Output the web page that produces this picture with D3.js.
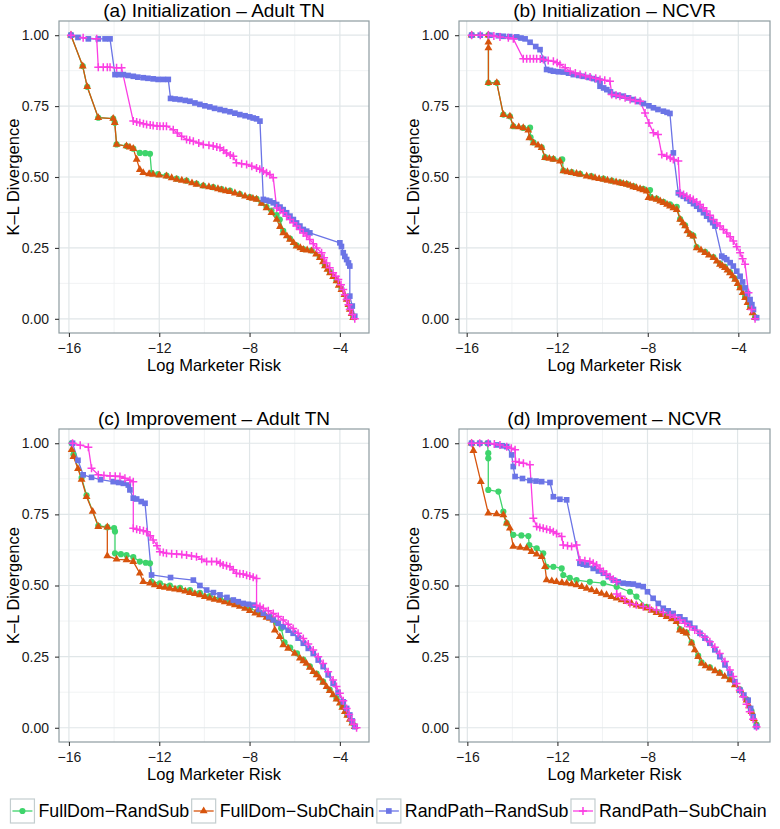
<!DOCTYPE html>
<html><head><meta charset="utf-8">
<script src="https://cdn.jsdelivr.net/npm/d3@7"></script>
<style>
body{margin:0;background:#fff}
svg{display:block}
text{font-family:"Liberation Sans",Arial,Helvetica,sans-serif}
</style>
</head><body>
<svg id="chart" width="780" height="829"></svg>
<script>
// ---------- DATA (x = log marketer risk, y = K-L divergence) ----------
const seriesNames = ["FullDom\u2212RandSub","FullDom\u2212SubChain","RandPath\u2212RandSub","RandPath\u2212SubChain"];
const panelTitles = ["(a) Initialization \u2013 Adult TN","(b) Initialization \u2013 NCVR","(c) Improvement \u2013 Adult TN","(d) Improvement \u2013 NCVR"];
const xTicks = [-16,-12,-8,-4];
const yTicks = [0,0.25,0.5,0.75,1];
const xMinorTicks = [-14,-10,-6];
const yMinorTicks = [0.125,0.375,0.625,0.875];
const xLabel = "Log Marketer Risk";
const yLabel = "K\u2013L Divergence";

// Panel (a)
const a_FullDomRandSub = [[-15.91,1.0],[-15.39,0.891],[-15.19,0.818],[-14.70,0.709],[-14.04,0.706],[-13.97,0.691],[-13.89,0.615],[-13.45,0.609],[-13.15,0.600],[-12.86,0.585],[-12.62,0.584],[-12.41,0.582],[-12.34,0.515],[-12.05,0.510],[-11.68,0.505],[-11.23,0.494],[-10.79,0.487],[-10.35,0.477],[-10.05,0.470],[-9.61,0.464],[-9.24,0.457],[-8.87,0.452],[-8.43,0.440],[-7.99,0.429],[-7.69,0.423],[-7.47,0.409],[-7.25,0.395],[-7.03,0.382],[-6.80,0.366],[-6.66,0.350],[-6.51,0.310],[-6.21,0.283],[-5.92,0.259],[-5.62,0.246],[-5.25,0.241],[-4.89,0.218],[-4.66,0.189],[-4.44,0.165],[-4.15,0.136],[-3.93,0.106],[-3.70,0.071],[-3.56,0.036],[-3.41,0.006]];
const a_FullDomSubChain = [[-15.91,1.0],[-15.39,0.891],[-15.19,0.818],[-14.70,0.709],[-14.04,0.706],[-13.97,0.691],[-13.89,0.615],[-13.45,0.609],[-13.30,0.605],[-13.15,0.600],[-13.0,0.562],[-12.86,0.526],[-12.71,0.515],[-12.45,0.511],[-12.27,0.509],[-12.0,0.506],[-11.68,0.503],[-11.45,0.497],[-11.23,0.491],[-11.0,0.488],[-10.79,0.485],[-10.55,0.479],[-10.35,0.474],[-10.05,0.468],[-9.80,0.465],[-9.61,0.462],[-9.40,0.458],[-9.24,0.454],[-9.05,0.451],[-8.87,0.448],[-8.65,0.443],[-8.43,0.438],[-8.20,0.432],[-7.99,0.427],[-7.85,0.424],[-7.69,0.421],[-7.47,0.407],[-7.25,0.391],[-7.03,0.374],[-6.80,0.350],[-6.65,0.325],[-6.51,0.303],[-6.35,0.292],[-6.21,0.280],[-6.05,0.268],[-5.92,0.256],[-5.75,0.250],[-5.62,0.244],[-5.45,0.242],[-5.25,0.239],[-5.05,0.228],[-4.89,0.215],[-4.75,0.200],[-4.66,0.186],[-4.55,0.174],[-4.44,0.162],[-4.30,0.148],[-4.15,0.133],[-4.05,0.118],[-3.93,0.103],[-3.80,0.085],[-3.70,0.068],[-3.62,0.050],[-3.56,0.033],[-3.48,0.018],[-3.41,0.004]];
const a_RandPathRandSub = [[-15.91,1.0],[-15.60,0.992],[-15.14,0.987],[-14.70,0.987],[-14.40,0.987],[-14.18,0.987],[-13.96,0.861],[-13.80,0.861],[-13.59,0.861],[-13.38,0.858],[-13.15,0.855],[-12.95,0.852],[-12.71,0.850],[-12.50,0.848],[-12.27,0.846],[-12.05,0.844],[-11.82,0.844],[-11.60,0.844],[-11.50,0.777],[-11.30,0.775],[-11.08,0.773],[-10.85,0.770],[-10.64,0.767],[-10.42,0.761],[-10.20,0.756],[-9.98,0.751],[-9.76,0.747],[-9.55,0.742],[-9.31,0.738],[-9.10,0.734],[-8.87,0.730],[-8.65,0.725],[-8.43,0.720],[-8.20,0.716],[-7.99,0.712],[-7.84,0.708],[-7.69,0.705],[-7.54,0.697],[-7.39,0.421],[-7.25,0.418],[-7.10,0.415],[-6.95,0.409],[-6.80,0.403],[-6.65,0.394],[-6.51,0.385],[-6.36,0.374],[-6.21,0.362],[-6.06,0.350],[-5.92,0.338],[-5.77,0.327],[-5.62,0.315],[-5.47,0.309],[-5.33,0.303],[-4.0,0.268],[-3.93,0.255],[-3.85,0.233],[-3.78,0.220],[-3.70,0.209],[-3.62,0.197],[-3.56,0.186],[-3.56,0.080],[-3.45,0.045],[-3.34,0.009]];
const a_RandPathSubChain = [[-15.91,1.0],[-15.37,0.991],[-14.77,0.987],[-14.70,0.887],[-14.48,0.887],[-14.30,0.887],[-14.18,0.887],[-13.89,0.885],[-13.67,0.885],[-13.15,0.697],[-13.0,0.694],[-12.86,0.691],[-12.70,0.688],[-12.56,0.685],[-12.40,0.683],[-12.27,0.682],[-12.10,0.680],[-11.97,0.679],[-11.82,0.679],[-11.68,0.679],[-11.38,0.667],[-11.20,0.655],[-11.01,0.644],[-10.79,0.632],[-10.65,0.630],[-10.49,0.626],[-10.25,0.620],[-10.05,0.615],[-9.80,0.612],[-9.61,0.609],[-9.45,0.606],[-9.31,0.603],[-9.15,0.594],[-9.02,0.585],[-8.85,0.578],[-8.72,0.573],[-8.58,0.550],[-8.35,0.547],[-8.13,0.544],[-7.90,0.538],[-7.69,0.532],[-7.55,0.527],[-7.39,0.521],[-7.25,0.515],[-7.10,0.509],[-6.95,0.497],[-6.80,0.391],[-6.65,0.383],[-6.51,0.374],[-6.36,0.362],[-6.21,0.350],[-6.06,0.339],[-5.92,0.327],[-5.77,0.315],[-5.62,0.303],[-5.47,0.292],[-5.33,0.280],[-5.18,0.265],[-5.03,0.250],[-4.81,0.233],[-4.70,0.215],[-4.59,0.197],[-4.45,0.180],[-4.30,0.162],[-4.18,0.150],[-4.07,0.139],[-3.95,0.120],[-3.85,0.103],[-3.78,0.085],[-3.70,0.068],[-3.62,0.050],[-3.56,0.033],[-3.45,0.015],[-3.34,0.0]];

// Panel (b)
const b_FullDomRandSub = [[-15.78,1.0],[-15.04,1.0],[-15.04,0.832],[-14.67,0.832],[-14.38,0.720],[-14.09,0.714],[-13.94,0.679],[-13.50,0.673],[-13.20,0.674],[-13.18,0.640],[-13.05,0.622],[-12.69,0.605],[-12.54,0.570],[-12.17,0.564],[-11.78,0.562],[-11.73,0.523],[-11.36,0.517],[-10.99,0.511],[-10.50,0.503],[-9.96,0.494],[-9.59,0.487],[-9.23,0.481],[-8.93,0.476],[-8.64,0.468],[-8.20,0.458],[-7.90,0.454],[-7.88,0.430],[-7.61,0.424],[-7.31,0.412],[-7.02,0.404],[-6.72,0.395],[-6.57,0.352],[-6.35,0.330],[-6.13,0.300],[-5.99,0.293],[-5.84,0.253],[-5.47,0.236],[-5.10,0.218],[-4.81,0.195],[-4.59,0.183],[-4.37,0.165],[-4.14,0.142],[-3.92,0.112],[-3.70,0.078],[-3.48,0.043],[-3.26,0.006]];
const b_FullDomSubChain = [[-15.78,1.0],[-15.04,1.0],[-15.04,0.975],[-15.04,0.955],[-15.04,0.832],[-14.67,0.832],[-14.38,0.720],[-14.09,0.714],[-13.94,0.679],[-13.70,0.676],[-13.50,0.673],[-13.28,0.665],[-13.23,0.638],[-13.05,0.620],[-12.85,0.612],[-12.69,0.603],[-12.54,0.568],[-12.35,0.565],[-12.17,0.562],[-11.88,0.556],[-11.73,0.521],[-11.55,0.518],[-11.36,0.515],[-11.15,0.512],[-10.99,0.509],[-10.70,0.503],[-10.50,0.500],[-10.33,0.497],[-10.15,0.494],[-9.96,0.491],[-9.78,0.488],[-9.59,0.485],[-9.40,0.482],[-9.23,0.479],[-9.08,0.476],[-8.93,0.474],[-8.78,0.470],[-8.64,0.465],[-8.50,0.462],[-8.34,0.458],[-8.20,0.454],[-8.05,0.450],[-7.97,0.427],[-7.80,0.424],[-7.61,0.421],[-7.45,0.415],[-7.31,0.409],[-7.15,0.403],[-7.02,0.397],[-6.87,0.391],[-6.72,0.385],[-6.57,0.350],[-6.45,0.338],[-6.35,0.327],[-6.25,0.310],[-6.13,0.297],[-5.99,0.291],[-5.84,0.250],[-5.65,0.242],[-5.47,0.233],[-5.30,0.224],[-5.10,0.215],[-4.95,0.203],[-4.81,0.192],[-4.70,0.186],[-4.59,0.180],[-4.48,0.171],[-4.37,0.162],[-4.25,0.151],[-4.14,0.139],[-4.03,0.124],[-3.92,0.109],[-3.81,0.092],[-3.70,0.074],[-3.59,0.057],[-3.48,0.039],[-3.37,0.021],[-3.26,0.004]];
const b_RandPathRandSub = [[-15.78,1.0],[-15.40,1.0],[-14.97,1.0],[-14.60,0.998],[-14.38,0.996],[-14.10,0.995],[-13.79,0.994],[-13.60,0.990],[-13.42,0.987],[-13.20,0.975],[-12.95,0.960],[-12.76,0.949],[-12.60,0.915],[-12.47,0.879],[-12.30,0.876],[-12.17,0.873],[-11.95,0.871],[-11.73,0.870],[-11.50,0.866],[-11.29,0.861],[-11.05,0.858],[-10.85,0.855],[-10.60,0.851],[-10.40,0.847],[-10.25,0.843],[-10.11,0.838],[-10.11,0.820],[-9.95,0.814],[-9.81,0.808],[-9.65,0.800],[-9.52,0.791],[-9.30,0.788],[-9.08,0.785],[-8.85,0.779],[-8.64,0.773],[-8.40,0.766],[-8.19,0.759],[-7.95,0.751],[-7.75,0.744],[-7.55,0.738],[-7.31,0.732],[-7.15,0.728],[-7.02,0.724],[-6.87,0.585],[-6.65,0.444],[-6.55,0.438],[-6.43,0.432],[-6.28,0.424],[-6.13,0.415],[-5.98,0.406],[-5.84,0.397],[-5.70,0.386],[-5.54,0.374],[-5.40,0.362],[-5.25,0.350],[-5.13,0.339],[-5.03,0.327],[-4.73,0.221],[-4.62,0.215],[-4.51,0.209],[-4.36,0.198],[-4.22,0.186],[-4.07,0.168],[-3.92,0.150],[-3.81,0.130],[-3.70,0.109],[-3.59,0.089],[-3.48,0.068],[-3.40,0.050],[-3.33,0.033],[-3.19,0.004]];
const b_RandPathSubChain = [[-15.78,1.0],[-15.40,1.0],[-15.04,1.0],[-14.80,0.997],[-14.53,0.994],[-14.16,0.991],[-13.94,0.987],[-13.50,0.917],[-13.35,0.917],[-13.20,0.917],[-13.05,0.917],[-12.91,0.917],[-12.75,0.916],[-12.61,0.914],[-12.40,0.911],[-12.17,0.908],[-12.0,0.903],[-11.88,0.897],[-11.65,0.885],[-11.43,0.873],[-11.20,0.867],[-10.99,0.861],[-10.75,0.857],[-10.55,0.853],[-10.30,0.848],[-10.11,0.844],[-9.90,0.841],[-9.67,0.838],[-9.59,0.791],[-9.40,0.788],[-9.23,0.785],[-9.00,0.779],[-8.78,0.773],[-8.55,0.770],[-8.34,0.767],[-8.12,0.726],[-7.95,0.690],[-7.75,0.656],[-7.55,0.650],[-7.38,0.579],[-7.16,0.573],[-7.00,0.567],[-6.87,0.562],[-6.65,0.556],[-6.57,0.444],[-6.42,0.438],[-6.28,0.432],[-6.13,0.426],[-5.99,0.421],[-5.84,0.412],[-5.69,0.403],[-5.55,0.392],[-5.40,0.380],[-5.25,0.365],[-5.10,0.350],[-4.95,0.338],[-4.81,0.327],[-4.66,0.315],[-4.51,0.303],[-4.36,0.289],[-4.22,0.274],[-4.07,0.254],[-3.92,0.233],[-3.81,0.212],[-3.70,0.192],[-3.55,0.092],[-3.41,0.033],[-3.26,0.0]];

// Panel (c)
const c_FullDomRandSub = [[-15.88,1.0],[-15.80,0.960],[-15.44,0.878],[-15.22,0.817],[-14.70,0.710],[-14.30,0.705],[-14.0,0.702],[-13.96,0.690],[-13.96,0.613],[-13.70,0.610],[-13.45,0.607],[-13.15,0.600],[-12.86,0.584],[-12.60,0.580],[-12.41,0.578],[-12.34,0.513],[-11.97,0.508],[-11.53,0.500],[-11.08,0.492],[-10.64,0.484],[-10.20,0.474],[-9.76,0.463],[-9.31,0.455],[-8.87,0.445],[-8.43,0.434],[-7.99,0.420],[-7.54,0.405],[-7.10,0.390],[-6.80,0.370],[-6.60,0.350],[-6.45,0.300],[-6.20,0.282],[-5.90,0.262],[-5.62,0.240],[-5.33,0.216],[-5.03,0.190],[-4.74,0.162],[-4.45,0.134],[-4.15,0.104],[-3.89,0.075],[-3.67,0.046],[-3.45,0.019],[-3.34,0.006]];
const c_FullDomSubChain = [[-15.88,0.977],[-15.80,0.953],[-15.60,0.910],[-15.44,0.873],[-15.22,0.812],[-14.95,0.760],[-14.70,0.707],[-14.30,0.705],[-14.30,0.604],[-13.89,0.592],[-13.45,0.590],[-13.15,0.584],[-12.86,0.543],[-12.71,0.513],[-12.41,0.508],[-12.20,0.502],[-11.97,0.496],[-11.75,0.493],[-11.53,0.490],[-11.30,0.487],[-11.08,0.484],[-10.85,0.480],[-10.64,0.475],[-10.42,0.471],[-10.20,0.467],[-9.98,0.461],[-9.76,0.455],[-9.55,0.451],[-9.31,0.447],[-9.10,0.442],[-8.87,0.437],[-8.65,0.432],[-8.43,0.426],[-8.20,0.419],[-7.99,0.411],[-7.75,0.403],[-7.54,0.396],[-7.25,0.388],[-7.10,0.384],[-6.95,0.379],[-6.88,0.343],[-6.66,0.320],[-6.51,0.291],[-6.29,0.279],[-6.0,0.261],[-5.77,0.244],[-5.62,0.235],[-5.48,0.226],[-5.33,0.212],[-5.18,0.197],[-5.03,0.186],[-4.89,0.174],[-4.74,0.159],[-4.59,0.144],[-4.45,0.130],[-4.30,0.115],[-4.15,0.100],[-4.0,0.086],[-3.89,0.071],[-3.78,0.056],[-3.67,0.043],[-3.56,0.029],[-3.45,0.016],[-3.34,0.004]];
const c_RandPathRandSub = [[-15.84,1.0],[-15.60,0.940],[-15.37,0.889],[-15.0,0.880],[-14.60,0.872],[-14.04,0.865],[-13.80,0.862],[-13.59,0.859],[-13.37,0.853],[-13.30,0.836],[-13.15,0.807],[-13.0,0.804],[-12.80,0.795],[-12.63,0.789],[-12.34,0.537],[-11.50,0.528],[-10.49,0.519],[-10.20,0.500],[-9.90,0.484],[-9.60,0.475],[-9.31,0.467],[-9.00,0.458],[-8.72,0.449],[-8.50,0.443],[-8.28,0.437],[-8.05,0.434],[-7.84,0.431],[-7.60,0.416],[-7.39,0.402],[-7.15,0.390],[-6.95,0.379],[-6.73,0.367],[-6.51,0.355],[-6.29,0.343],[-6.07,0.332],[-5.85,0.315],[-5.62,0.297],[-5.40,0.279],[-5.18,0.261],[-4.96,0.238],[-4.74,0.215],[-4.52,0.186],[-4.30,0.156],[-4.08,0.124],[-3.85,0.091],[-3.70,0.068],[-3.56,0.045],[-3.45,0.024],[-3.34,0.004]];
const c_RandPathSubChain = [[-15.84,1.0],[-15.50,0.993],[-15.14,0.986],[-15.0,0.912],[-14.70,0.889],[-14.45,0.887],[-14.18,0.885],[-13.95,0.884],[-13.74,0.883],[-13.52,0.877],[-13.30,0.870],[-13.15,0.865],[-13.15,0.701],[-13.0,0.698],[-12.86,0.695],[-12.70,0.692],[-12.56,0.689],[-12.40,0.675],[-12.27,0.660],[-12.10,0.640],[-11.97,0.619],[-11.82,0.616],[-11.68,0.613],[-11.45,0.612],[-11.23,0.611],[-11.0,0.609],[-10.79,0.607],[-10.57,0.604],[-10.35,0.601],[-10.12,0.592],[-9.90,0.584],[-9.68,0.584],[-9.46,0.584],[-9.30,0.578],[-9.17,0.572],[-9.02,0.569],[-8.87,0.566],[-8.72,0.555],[-8.58,0.543],[-8.43,0.541],[-8.28,0.540],[-8.13,0.536],[-7.99,0.533],[-7.84,0.529],[-7.69,0.525],[-7.69,0.431],[-7.54,0.426],[-7.39,0.420],[-7.17,0.411],[-6.95,0.402],[-6.73,0.391],[-6.51,0.379],[-6.29,0.364],[-6.07,0.349],[-5.85,0.332],[-5.62,0.314],[-5.40,0.294],[-5.18,0.273],[-4.96,0.250],[-4.74,0.226],[-4.52,0.197],[-4.30,0.168],[-4.15,0.145],[-4.0,0.121],[-3.85,0.095],[-3.70,0.068],[-3.59,0.047],[-3.48,0.027],[-3.37,0.012],[-3.26,0.0]];

// Panel (d)
const d_FullDomRandSub = [[-15.81,1.0],[-15.45,1.0],[-15.11,1.0],[-15.07,0.965],[-15.07,0.947],[-15.07,0.836],[-14.62,0.830],[-14.40,0.760],[-14.25,0.719],[-13.96,0.678],[-13.60,0.676],[-13.29,0.674],[-13.25,0.642],[-12.92,0.631],[-12.63,0.613],[-12.48,0.566],[-12.18,0.566],[-11.81,0.560],[-11.74,0.537],[-11.45,0.527],[-11.15,0.519],[-10.56,0.513],[-9.96,0.508],[-9.37,0.496],[-8.78,0.478],[-8.49,0.461],[-8.04,0.425],[-7.60,0.408],[-7.15,0.394],[-6.71,0.378],[-6.56,0.347],[-6.27,0.335],[-6.04,0.300],[-5.75,0.254],[-5.60,0.230],[-5.23,0.212],[-4.79,0.194],[-4.34,0.171],[-3.90,0.135],[-3.60,0.100],[-3.38,0.059],[-3.16,0.011]];
const d_FullDomSubChain = [[-15.81,1.0],[-15.73,0.974],[-15.40,0.865],[-15.07,0.754],[-14.70,0.751],[-14.40,0.748],[-14.25,0.719],[-14.11,0.701],[-13.96,0.637],[-13.65,0.634],[-13.37,0.631],[-13.15,0.619],[-12.92,0.610],[-12.70,0.601],[-12.55,0.566],[-12.48,0.519],[-12.25,0.516],[-12.04,0.513],[-11.80,0.510],[-11.59,0.508],[-11.37,0.505],[-11.15,0.502],[-10.92,0.496],[-10.70,0.490],[-10.48,0.484],[-10.26,0.478],[-10.04,0.472],[-9.82,0.467],[-9.60,0.461],[-9.37,0.455],[-9.15,0.449],[-8.93,0.443],[-8.71,0.437],[-8.49,0.431],[-8.27,0.426],[-8.04,0.420],[-7.82,0.412],[-7.60,0.404],[-7.37,0.397],[-7.15,0.390],[-6.93,0.382],[-6.71,0.373],[-6.56,0.343],[-6.40,0.338],[-6.27,0.332],[-6.04,0.297],[-5.90,0.273],[-5.75,0.250],[-5.60,0.226],[-5.42,0.217],[-5.23,0.209],[-5.00,0.200],[-4.79,0.191],[-4.57,0.180],[-4.34,0.168],[-4.12,0.150],[-3.90,0.132],[-3.75,0.115],[-3.60,0.097],[-3.49,0.077],[-3.38,0.056],[-3.27,0.032],[-3.16,0.009]];
const d_RandPathRandSub = [[-15.81,1.0],[-15.45,1.0],[-15.07,1.0],[-14.70,0.994],[-14.45,0.991],[-14.25,0.988],[-14.03,0.959],[-13.96,0.918],[-13.88,0.883],[-13.55,0.876],[-13.22,0.869],[-12.95,0.867],[-12.70,0.865],[-12.33,0.862],[-12.18,0.812],[-11.89,0.803],[-11.59,0.801],[-11.0,0.578],[-10.85,0.575],[-10.70,0.572],[-10.41,0.560],[-10.18,0.551],[-9.96,0.543],[-9.74,0.531],[-9.52,0.519],[-9.30,0.513],[-9.08,0.508],[-8.85,0.506],[-8.63,0.505],[-8.41,0.500],[-8.19,0.496],[-8.0,0.478],[-7.75,0.455],[-7.52,0.437],[-7.30,0.420],[-7.08,0.411],[-6.86,0.402],[-6.56,0.390],[-6.34,0.379],[-6.12,0.367],[-5.90,0.350],[-5.67,0.332],[-5.45,0.315],[-5.23,0.297],[-5.01,0.274],[-4.79,0.250],[-4.56,0.221],[-4.34,0.191],[-4.12,0.162],[-3.90,0.132],[-3.72,0.115],[-3.53,0.097],[-3.42,0.068],[-3.31,0.039],[-3.16,0.004]];
const d_RandPathSubChain = [[-15.81,1.0],[-15.45,1.0],[-15.07,1.0],[-14.80,0.997],[-14.55,0.994],[-14.25,0.988],[-14.05,0.982],[-13.88,0.977],[-13.86,0.936],[-13.70,0.933],[-13.51,0.930],[-13.22,0.924],[-13.07,0.736],[-12.92,0.707],[-12.78,0.704],[-12.63,0.701],[-12.48,0.698],[-12.33,0.695],[-12.18,0.689],[-12.04,0.683],[-11.81,0.672],[-11.74,0.642],[-11.55,0.640],[-11.37,0.637],[-11.15,0.642],[-11.0,0.590],[-10.78,0.587],[-10.56,0.584],[-10.41,0.578],[-10.26,0.572],[-10.11,0.560],[-9.96,0.549],[-9.82,0.540],[-9.67,0.531],[-9.52,0.522],[-9.37,0.513],[-9.37,0.470],[-9.20,0.462],[-9.0,0.450],[-8.78,0.437],[-8.50,0.432],[-8.19,0.426],[-7.90,0.420],[-7.60,0.414],[-7.30,0.405],[-7.0,0.396],[-6.78,0.388],[-6.56,0.379],[-6.34,0.367],[-6.12,0.355],[-5.90,0.344],[-5.67,0.332],[-5.45,0.318],[-5.23,0.302],[-5.01,0.283],[-4.79,0.261],[-4.56,0.233],[-4.34,0.203],[-4.19,0.180],[-4.05,0.156],[-3.90,0.132],[-3.75,0.109],[-3.60,0.083],[-3.46,0.056],[-3.31,0.030],[-3.16,0.004]];

// ---------- STYLE / LAYOUT ----------
const seriesColors = ["#3ed46b","#d7540d","#6b74e6","#fb3ee3"];
const seriesShapes = ["circle","triangle","square","plus"];
const xDomains = [[-16.44,-2.71],[-16.34,-2.60],[-16.44,-2.71],[-16.37,-2.56]];
const yDomain = [-0.05,1.05];
const FONT = '"Liberation Sans",Arial,Helvetica,sans-serif';

const panelSeries = [
  [a_FullDomRandSub,a_FullDomSubChain,a_RandPathRandSub,a_RandPathSubChain],
  [b_FullDomRandSub,b_FullDomSubChain,b_RandPathRandSub,b_RandPathSubChain],
  [c_FullDomRandSub,c_FullDomSubChain,c_RandPathRandSub,c_RandPathSubChain],
  [d_FullDomRandSub,d_FullDomSubChain,d_RandPathRandSub,d_RandPathSubChain]
];
const boxes = [[59,369,21,333],[459,770,21,333],[59,369,429,742],[459,770,429,742]];

const svg = d3.select("#chart");

function drawMarker(sel, shape, color) {
  if (shape === "plus") {
    sel.append("path").attr("d","M-4,0H4M0,-4V4")
      .attr("stroke",color).attr("stroke-width",1.5).attr("fill","none");
  } else {
    const t = shape === "circle" ? d3.symbolCircle : shape === "triangle" ? d3.symbolTriangle : d3.symbolSquare;
    const size = shape === "circle" ? 30 : shape === "triangle" ? 27 : 32;
    sel.append("path").attr("d", d3.symbol().type(t).size(size)()).attr("fill",color);
  }
}

panelSeries.forEach((series, pi) => {
  const [L,R,T,B] = boxes[pi];
  const x = d3.scaleLinear().domain(xDomains[pi]).range([L,R]);
  const y = d3.scaleLinear().domain(yDomain).range([B,T]);
  const g = svg.append("g");

  g.append("rect").attr("x",L).attr("y",T).attr("width",R-L).attr("height",B-T).attr("fill","#fff");

  // minor grid
  g.selectAll(null).data(xMinorTicks).join("line")
    .attr("x1",d=>x(d)).attr("x2",d=>x(d)).attr("y1",T).attr("y2",B)
    .attr("stroke","#edf0f1").attr("stroke-width",0.8);
  g.selectAll(null).data(yMinorTicks).join("line")
    .attr("y1",d=>y(d)).attr("y2",d=>y(d)).attr("x1",L).attr("x2",R)
    .attr("stroke","#edf0f1").attr("stroke-width",0.8);
  // major grid
  g.selectAll(null).data(xTicks).join("line")
    .attr("x1",d=>x(d)).attr("x2",d=>x(d)).attr("y1",T).attr("y2",B)
    .attr("stroke","#e0e6e8").attr("stroke-width",1.2);
  g.selectAll(null).data(yTicks).join("line")
    .attr("y1",d=>y(d)).attr("y2",d=>y(d)).attr("x1",L).attr("x2",R)
    .attr("stroke","#e0e6e8").attr("stroke-width",1.2);

  const line = d3.line().x(d=>x(d[0])).y(d=>y(d[1]));
  series.forEach((s, si) => {
    g.append("path").datum(s).attr("d",line).attr("fill","none")
      .attr("stroke",seriesColors[si]).attr("stroke-width",1.3).attr("stroke-linejoin","round");
  });
  series.forEach((s, si) => {
    const pts = g.append("g");
    s.forEach(d => {
      const m = pts.append("g").attr("transform",`translate(${x(d[0])},${y(d[1])})`);
      drawMarker(m, seriesShapes[si], seriesColors[si]);
    });
  });

  g.append("rect").attr("x",L).attr("y",T).attr("width",R-L).attr("height",B-T)
    .attr("fill","none").attr("stroke","#8e9ca0").attr("stroke-width",1.2);

  // axes
  const ax = g.append("g").attr("transform",`translate(0,${B})`)
    .call(d3.axisBottom(x).tickValues(xTicks).tickSizeInner(4).tickSizeOuter(0).tickPadding(6.5));
  const ay = g.append("g").attr("transform",`translate(${L},0)`)
    .call(d3.axisLeft(y).tickValues(yTicks).tickFormat(d3.format(".2f")).tickSizeInner(4).tickSizeOuter(0).tickPadding(6));
  [ax, ay].forEach(a => {
    a.select(".domain").remove();
    a.selectAll(".tick line").attr("stroke","#333").attr("stroke-width",1.1);
    a.selectAll(".tick text").attr("font-size",14).attr("fill","#1a1a1a").attr("font-family",FONT);
  });

  // titles
  g.append("text").attr("x",(L+R)/2).attr("y",T-4.5).attr("text-anchor","middle")
    .attr("font-size",19).attr("fill","#000").text(panelTitles[pi]);
  g.append("text").attr("x",(L+R)/2).attr("y",B+37.5).attr("text-anchor","middle")
    .attr("font-size",16.5).attr("fill","#000").text(xLabel);
  g.append("text").attr("transform",`translate(${L-40.5},${(T+B)/2}) rotate(-90)`)
    .attr("text-anchor","middle").attr("font-size",16.5).attr("fill","#000").text(yLabel);
});

// legend
const leg = svg.append("g");
const keySize = 24, legY = 799;
const items = seriesNames.map((name, i) => {
  const gi = leg.append("g");
  gi.append("rect").attr("x",0).attr("y",0).attr("width",keySize).attr("height",keySize)
    .attr("fill","#fff").attr("stroke","#c3cdcf").attr("stroke-width",1.2);
  gi.append("line").attr("x1",2).attr("x2",keySize-2).attr("y1",keySize/2).attr("y2",keySize/2)
    .attr("stroke",seriesColors[i]).attr("stroke-width",1.3);
  const mk = gi.append("g").attr("transform",`translate(${keySize/2},${keySize/2})`);
  drawMarker(mk, seriesShapes[i], seriesColors[i]);
  const t = gi.append("text").attr("x",keySize+4).attr("y",18.3).attr("font-size",17.8).attr("fill","#000").text(name);
  return {g: gi, w: keySize + 4 + t.node().getComputedTextLength()};
});
const gap = 2.5;
const total = d3.sum(items, d=>d.w) + gap*(items.length-1);
let cx = 388.5 - total/2;
items.forEach(it => { it.g.attr("transform",`translate(${cx},${legY})`); cx += it.w + gap; });
</script>
</body></html>
